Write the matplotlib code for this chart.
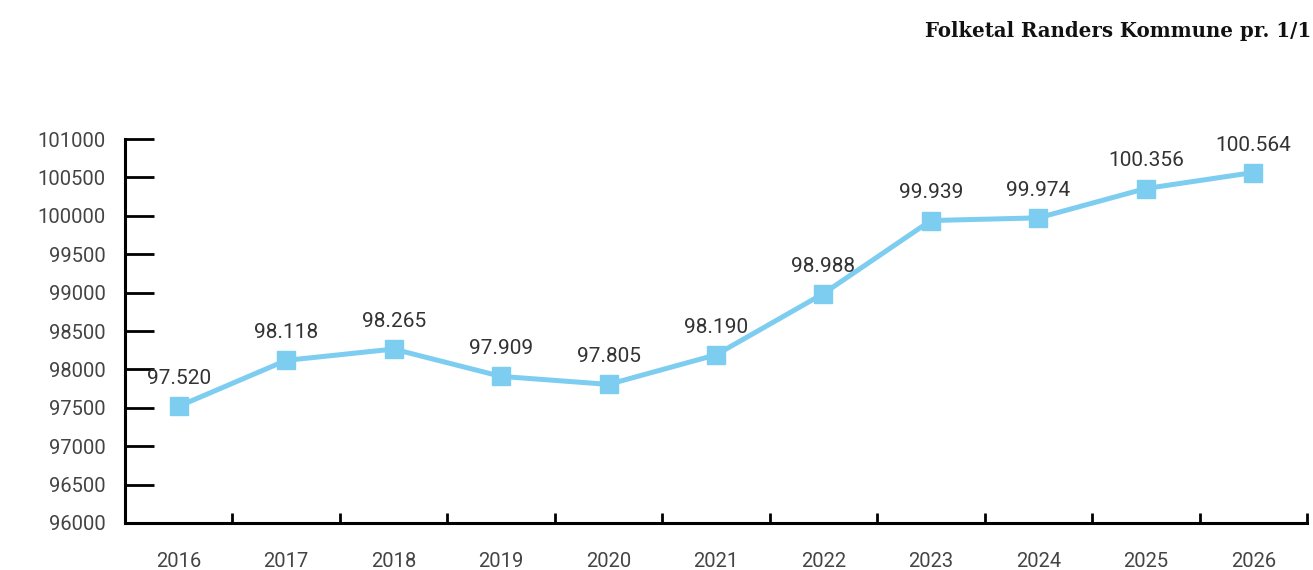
import matplotlib
matplotlib.use('Agg')
import matplotlib.pyplot as plt
import numpy as np

# data
years = ['2016', '2017', '2018', '2019', '2020', '2021',
         '2022', '2023', '2024', '2025', '2026']
population = [97520, 98118, 98265, 97909, 97805, 98190,
              98988, 99939, 99974, 100356, 100564]
yticks = list(range(96000, 101001, 500))

LINE_COLOR = '#7dcdf1'

fig = plt.figure(figsize=(13.13, 5.70), dpi=100)
ax = fig.add_axes([0.0952, 0.0825, 0.9002, 0.6735])

x = np.arange(len(years))
ax.plot(x, population, color=LINE_COLOR, lw=3.6, marker='s', ms=12.5,
        mec=LINE_COLOR, mfc=LINE_COLOR, solid_joinstyle='miter')

# value labels in Danish thousands format
for xi, v in zip(x, population):
    label = f'{v:,}'.replace(',', '.')
    ax.annotate(label, (xi, v), xytext=(0, 13), textcoords='offset points',
                ha='center', va='bottom', fontsize=15, color='#333333',
                family='Roboto')

ax.set_xlim(-0.5, len(years) - 0.5)
ax.set_ylim(96000, 101000)

ax.set_yticks(yticks)
ax.set_yticklabels([str(t) for t in yticks])
ax.tick_params(axis='y', direction='in', length=21, width=2, pad=14,
               labelsize=14.5, labelcolor='#444444')

# year labels centred, tick marks at category boundaries
ax.set_xticks(x)
ax.set_xticklabels(years)
ax.set_xticks(np.arange(-0.5, len(years)), minor=True)
ax.tick_params(axis='x', which='major', length=0, pad=21,
               labelsize=14.5, labelcolor='#444444')
ax.tick_params(axis='x', which='minor', direction='in', length=7, width=2)

for lab in ax.get_xticklabels() + ax.get_yticklabels():
    lab.set_family('Roboto')

for side in ['top', 'right']:
    ax.spines[side].set_visible(False)
for side in ['left', 'bottom']:
    ax.spines[side].set_linewidth(2.2)
    ax.spines[side].set_color('black')

fig.text(0.9985, 0.945, 'Folketal Randers Kommune pr. 1/1', ha='right', va='center',
         fontsize=14.2, fontweight='bold', family='DejaVu Serif', color='#111111')

fig.savefig('out.png', dpi=100)
